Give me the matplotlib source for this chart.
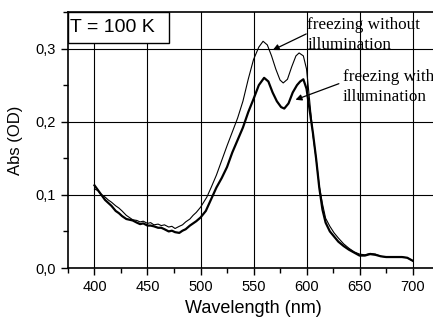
import matplotlib
matplotlib.use("Agg")
import matplotlib.pyplot as plt
from matplotlib.ticker import MultipleLocator, FuncFormatter
from matplotlib.patches import Rectangle

# Wavelength grid points (nm) and absorbance (OD)
wl_without = [400, 403, 406, 410, 413, 416, 420, 423, 426, 430, 433, 436, 440, 443, 446, 450,
              453, 456, 460, 463, 466, 470, 473, 476, 480, 483, 486, 490, 493, 496, 500, 503,
              506, 510, 515, 520, 525, 530, 535, 540, 545, 550, 555, 559, 563, 567, 571, 575,
              578, 582, 586, 590, 593, 597, 600, 603, 606, 609, 612, 615, 618, 622, 626, 630,
              635, 640, 645, 650, 655, 660, 665, 670, 675, 680, 685, 690, 695, 700]
abs_without = [0.108, 0.106, 0.101, 0.097, 0.093, 0.090, 0.085, 0.082, 0.078, 0.072, 0.069, 0.066,
               0.065, 0.063, 0.064, 0.061, 0.062, 0.059, 0.060, 0.058, 0.059, 0.056, 0.057, 0.054,
               0.057, 0.059, 0.063, 0.067, 0.072, 0.076, 0.083, 0.090, 0.097, 0.110, 0.127, 0.147,
               0.167, 0.186, 0.205, 0.228, 0.258, 0.285, 0.302, 0.310, 0.305, 0.290, 0.272, 0.257,
               0.253, 0.258, 0.275, 0.290, 0.294, 0.290, 0.272, 0.228, 0.182, 0.150, 0.112, 0.088,
               0.068, 0.057, 0.048, 0.041, 0.033, 0.027, 0.022, 0.019, 0.018, 0.020, 0.019, 0.016,
               0.015, 0.015, 0.015, 0.015, 0.014, 0.010]

wl_with = [400, 403, 406, 410, 413, 416, 420, 423, 426, 430, 433, 436, 440, 443, 446, 450,
           453, 456, 460, 463, 466, 470, 473, 476, 480, 483, 486, 490, 493, 496, 500, 505,
           510, 515, 520, 525, 530, 535, 540, 545, 550, 555, 560, 564, 568, 572, 576, 579,
           583, 587, 591, 594, 597, 600, 603, 606, 609, 612, 615, 618, 622, 626, 630, 635,
           640, 645, 650, 655, 660, 665, 670, 675, 680, 685, 690, 695, 700]
abs_with = [0.113, 0.107, 0.101, 0.093, 0.089, 0.085, 0.078, 0.075, 0.071, 0.067, 0.066, 0.065,
            0.062, 0.060, 0.061, 0.058, 0.058, 0.057, 0.055, 0.055, 0.053, 0.050, 0.051, 0.049,
            0.048, 0.051, 0.053, 0.058, 0.061, 0.064, 0.069, 0.078, 0.094, 0.110, 0.123, 0.138,
            0.158, 0.175, 0.192, 0.213, 0.231, 0.250, 0.260, 0.255, 0.240, 0.228, 0.220, 0.218,
            0.225, 0.240, 0.250, 0.255, 0.258, 0.245, 0.215, 0.185, 0.150, 0.110, 0.080, 0.062,
            0.050, 0.043, 0.036, 0.030, 0.025, 0.021, 0.017, 0.017, 0.019, 0.018, 0.016, 0.015,
            0.015, 0.015, 0.015, 0.014, 0.010]

x_ticks = [400, 450, 500, 550, 600, 650, 700]
y_ticks = [0.0, 0.1, 0.2, 0.3]

fig = plt.figure(figsize=(4.33, 3.2), dpi=100)
ax = fig.add_axes([0.157, 0.1625, 0.857, 0.8])

ax.plot(wl_without, abs_without, color="black", lw=0.8)
ax.plot(wl_with, abs_with, color="black", lw=1.6)

ax.set_xlim(375, 725)
ax.set_ylim(0, 0.35)
ax.set_xticks(x_ticks)
ax.set_yticks(y_ticks)
ax.xaxis.set_minor_locator(MultipleLocator(25))
ax.yaxis.set_minor_locator(MultipleLocator(0.05))
ax.yaxis.set_major_formatter(FuncFormatter(lambda v, p: f"{v:.1f}".replace(".", ",")))
ax.grid(True, which="major", color="black", lw=0.8)
ax.set_axisbelow(True)
ax.tick_params(which="major", direction="out", length=5, width=1, labelsize=10.5)
ax.tick_params(which="minor", direction="out", length=3.5, width=1)
for s in ax.spines.values():
    s.set_linewidth(1.2)

for lab in ax.get_xticklabels() + ax.get_yticklabels():
    lab.set_family("Liberation Sans")

ax.set_xlabel("Wavelength (nm)", family="Liberation Sans", fontsize=13)
ax.set_ylabel("Abs (OD)", family="Liberation Sans", fontsize=12)
ax.xaxis.set_label_coords(0.5, -0.125)
ax.yaxis.set_label_coords(-0.12, 0.5)

ax.add_patch(Rectangle((0, 0.88), 0.271, 0.12, transform=ax.transAxes,
                       facecolor="white", edgecolor="black", lw=1, zorder=5))
ax.text(0.006, 0.94, "T = 100 K", transform=ax.transAxes, family="Liberation Sans",
        fontsize=14, va="center", ha="left", zorder=6)

ax.text(600.9, 0.3437, "freezing without\nillumination", family="Liberation Serif",
        fontsize=12.3, va="top", ha="left", linespacing=1.4)
ax.text(634.0, 0.2714, "freezing with\nillumination", family="Liberation Serif",
        fontsize=12.3, va="top", ha="left", linespacing=1.3)
arrow_style = dict(arrowstyle="-|>", color="black", lw=0.9, mutation_scale=9,
                   shrinkA=0, shrinkB=0)
ax.annotate("", xy=(568.2, 0.298), xytext=(599.7, 0.320), arrowprops=arrow_style)
ax.annotate("", xy=(589.6, 0.230), xytext=(630.5, 0.252), arrowprops=arrow_style)

fig.savefig("out.png", dpi=100)
